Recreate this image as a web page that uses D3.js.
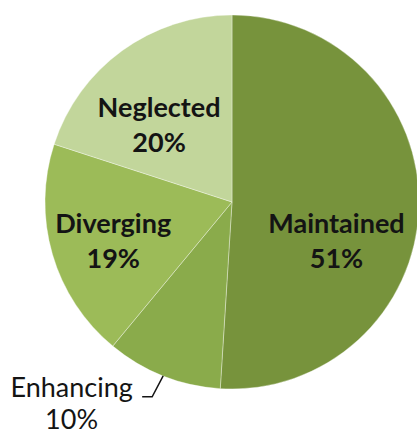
<!DOCTYPE html>
<html>
<head>
<meta charset="utf-8">
<script src="https://cdn.jsdelivr.net/npm/d3@7"></script>
<style>
  html, body { margin: 0; padding: 0; background: #ffffff; }
  svg { display: block; }
</style>
</head>
<body>
<div id="chart"></div>
<script>
// ---- data ----
const categories = ["Maintained", "Enhancing", "Diverging", "Neglected"];
const values = [51, 10, 19, 20];
const valueLabels = ["51%", "10%", "19%", "20%"];

// ---- layout / style ----
const W = 417, H = 435;
const cx = 232, cy = 202, R = 187;
const colors = ["#77933c", "#8aab4b", "#9cbb58", "#c2d69b"];
const fontWeights = ["bold", "normal", "bold", "bold"];
// label offsets from arc centroid (dx, dy of first baseline)
const labelOffsets = [[11, 28], [-126, 108], [-29, 5], [-18, -9]];
const lineGaps = [35, 32, 35, 35];

const svg = d3.select("#chart").append("svg")
  .attr("width", W).attr("height", H);

const g = svg.append("g").attr("transform", `translate(${cx},${cy})`);

const pie = d3.pie().sort(null).value(d => d.value);
const data = categories.map((c, i) => ({ name: c, value: values[i], label: valueLabels[i], i }));
const arcs = pie(data);
const arc = d3.arc().innerRadius(0).outerRadius(R);

g.selectAll("path.slice").data(arcs).enter().append("path")
  .attr("class", "slice")
  .attr("d", arc)
  .attr("fill", d => colors[d.data.i])
  .attr("stroke", "rgba(255,255,255,0.35)")
  .attr("stroke-width", 1);

g.selectAll("text.lbl").data(arcs).enter().append("text")
  .attr("class", "lbl")
  .attr("text-anchor", "middle")
  .attr("font-family", "Lato, 'Open Sans', sans-serif")
  .attr("font-size", 27)
  .attr("font-weight", d => fontWeights[d.data.i])
  .attr("fill", "#141414")
  .each(function(d) {
    const c = arc.centroid(d);
    const off = labelOffsets[d.data.i];
    const x = c[0] + off[0], y = c[1] + off[1];
    const t = d3.select(this);
    t.append("tspan").attr("x", x).attr("y", y).text(d.data.name);
    t.append("tspan").attr("x", x).attr("y", y + lineGaps[d.data.i]).text(d.data.label);
  });

// leader line for Enhancing
const enh = arcs[1];
const mid = (enh.startAngle + enh.endAngle) / 2;
const edge = [Math.sin(mid) * R, -Math.cos(mid) * R];
const elbow = [edge[0] - 11, edge[1] + 21];
const end = [elbow[0] - 10, elbow[1]];
g.append("path")
  .attr("d", d3.line()([edge, elbow, end]))
  .attr("fill", "none")
  .attr("stroke", "#141414")
  .attr("stroke-width", 1.5);
</script>
</body>
</html>
